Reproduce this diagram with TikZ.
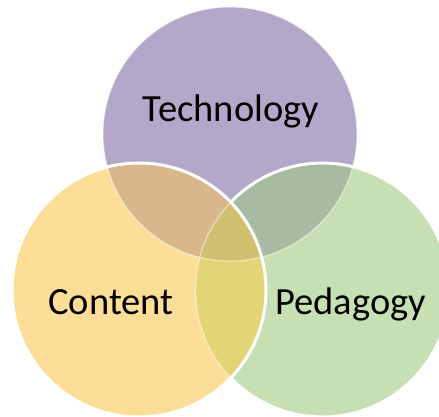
\documentclass[tikz,border=0pt]{standalone}
\usepackage{fontspec}
\setmainfont{Carlito}
\definecolor{techc}{HTML}{B3A8C9}
\definecolor{contc}{HTML}{FDDE98}
\definecolor{pedc}{HTML}{C6E0B4}
\definecolor{tcc}{HTML}{D8B88A}
\definecolor{tpc}{HTML}{A6BBA1}
\definecolor{cpc}{HTML}{E3D475}
\definecolor{allc}{HTML}{D1C06F}
\tikzset{
  lbl/.style={anchor=base, inner sep=0pt, font=\fontsize{38.5}{46}\selectfont, text=black},
  thickline/.style={draw=white, line width=3pt},
  faintline/.style={draw=white, draw opacity=0.5, line width=1.2pt}
}
\begin{document}
\begin{tikzpicture}[x=1pt,y=1pt]
\useasboundingbox (0,0) rectangle (439,417);
\clip (0,0) rectangle (439,417);
\coordinate (T) at (230,283);
\coordinate (C) at (139,127);
\coordinate (P) at (322.5,127);
\def\rr{127pt}
% base fills
\fill[techc] (T) circle[radius=\rr];
\fill[pedc] (P) circle[radius=\rr];
\fill[contc] (C) circle[radius=\rr];
% pairwise intersections
\begin{scope}
  \clip (T) circle[radius=\rr];
  \fill[tcc] (C) circle[radius=\rr];
  \fill[tpc] (P) circle[radius=\rr];
\end{scope}
\begin{scope}
  \clip (C) circle[radius=\rr];
  \fill[cpc] (P) circle[radius=\rr];
\end{scope}
\begin{scope}
  \clip (T) circle[radius=\rr];
  \clip (C) circle[radius=\rr];
  \fill[allc] (P) circle[radius=\rr];
\end{scope}
% outlines
\draw[faintline] (T) circle[radius=\rr];
\draw[thickline] (P) ++(-136.3:\rr) arc[start angle=-136.3, end angle=136.3, radius=\rr];
\draw[faintline] (P) ++(136.3:\rr) arc[start angle=136.3, end angle=223.7, radius=\rr];
\draw[thickline] (C) circle[radius=\rr];
% labels
\node[lbl] (tech) at (231,295) {Technology};
\node[lbl] (cont) at (111,102) {Content};
\node[lbl] (ped) at (350.5,102) {Pedagogy};
\end{tikzpicture}
\end{document}
